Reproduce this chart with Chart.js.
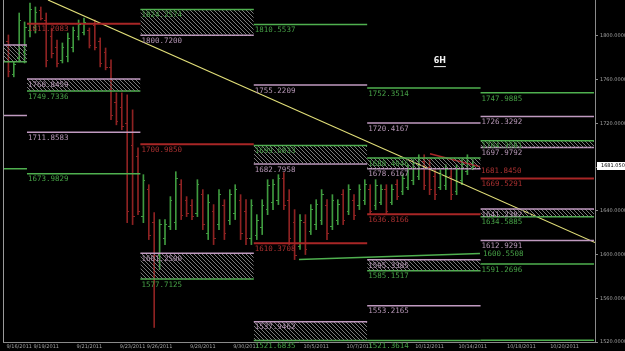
<!DOCTYPE html>
<html>
<head>
<meta charset="utf-8">
<script src="https://cdn.jsdelivr.net/npm/chart.js@4.4.1/dist/chart.umd.min.js"></script>
<style>
  html, body { margin: 0; padding: 0; background: #000; overflow: hidden; }
</style>
</head>
<body>
<canvas id="chart" width="625" height="351"></canvas>
<script>
// 6H bars, bar index of the first visible bar
const firstBar = -3;
const barOpen  = [1795,1765,1780,1785,1805,1808,1824,1815,1800,1790,1778,1782,1790,1800,1804,1805,1810,1795,1785,1772,1740,1735,1720,1700,1690,1635,1660,1630,1600,1615,1626,1630,1665,1650,1645,1638,1655,
                  1620,1640,1628,1645,1632,1638,1650,1640,1615,1618,1625,1642,1648,1650,1670,1650,1630,1608,1630,1622,1628,1632,1645,1626,1632,1655,1640,1650,1645,1650,1660,1645,1648,1660,1648,1665,1658,1662,1668,1672,1686,1680,1672,1662,1664,1672,1658,1668,1676,1679];
const barHigh  = [1800.9,1776.3,1821.0,1812.8,1830.1,1826.5,1826.5,1821.0,1807.3,1796.3,1793.6,1802.7,1808.2,1814.6,1816.4,1807.3,1814.6,1798.2,1789.0,1778.1,1747.9,1747.9,1746.1,1732.4,1697.7,1673.1,1663.9,1638.4,1632.0,1632.0,1653.0,1675.8,1668.5,1653.0,1650.2,1668.5,1659.4,
                  1654.8,1645.7,1659.4,1650.2,1659.4,1663.9,1654.8,1650.2,1650.2,1636.5,1650.2,1668.5,1668.5,1673.1,1675,1659.4,1641.1,1636.5,1636.5,1645.7,1650.2,1659.4,1650.2,1654.8,1650.2,1659.4,1663.9,1654.8,1663.9,1668.5,1663.9,1668.5,1663.9,1663.9,1663.9,1668.5,1673.1,1682.2,1686.8,1691.3,1691.3,1686.8,1677.6,1677.6,1682.2,1677.6,1682.2,1686.8,1691.3,1686.8];
const barLow   = [1762.6,1762.6,1776.3,1775.3,1799.1,1802.7,1814.6,1771.7,1779.9,1771.7,1775.3,1776.3,1785.4,1796.3,1800.9,1789.0,1787.2,1771.7,1769.0,1723.3,1718.7,1714.2,1629.2,1627.4,1636.5,1629.2,1613.7,1533.3,1586.3,1609.1,1622.8,1622.8,1632.0,1634.7,1632.0,1634.7,1622.8,
                  1613.7,1609.1,1622.8,1613.7,1627.4,1632,1613.7,1609.1,1609.1,1613.7,1618.3,1636.5,1641.1,1645.7,1641.1,1609.1,1595.4,1604.6,1600,1618.3,1622.8,1627.4,1613.7,1622.8,1627.4,1627.4,1636.5,1632,1641.1,1645.7,1636.5,1641.1,1645.7,1636.5,1645.7,1650.2,1654.8,1659.4,1663.9,1668.5,1659.4,1654.8,1650.2,1659.4,1659.4,1650.2,1654.8,1663.9,1673.1,1677.6];
const barClose = [1768,1774,1815,1808,1825,1822,1816,1778,1784,1775,1790,1798,1805,1811,1813,1792,1790,1775,1772,1728,1722,1718,1640,1635,1640,1668,1618,1600,1628,1628,1650,1670,1636,1638,1635,1665,1628,
                  1648,1615,1655,1620,1655,1660,1620,1615,1645,1632,1645,1664,1665,1670,1645,1615,1600,1632,1605,1642,1646,1655,1620,1650,1646,1632,1660,1636,1660,1665,1640,1664,1660,1640,1660,1654,1670,1678,1684,1688,1664,1660,1655,1674,1678,1655,1678,1683,1688,1681.05];

// weekly pivot periods (bar index of the first bar), 21 bars per week
const weekStart = [-21, 0, 21, 42, 63, 84];
const weekLen = 21;

// [week, value, label]
const greenLines = [
  [0, 1678.5, ''], [1, 1673.9829, '1673.9829'], [3, 1810.5537, '1810.5537'],
  [4, 1752.3514, '1752.3514'], [4, 1521.3614, '1521.3614'], [5, 1747.9885, '1747.9885'],
  [5, 1591.2696, '1591.2696'], [5, 1521.5, '']
];
const purpleLines = [
  [0, 1727.2, ''], [1, 1711.8583, '1711.8583'], [3, 1755.2209, '1755.2209'],
  [4, 1720.4167, '1720.4167'], [4, 1553.2165, '1553.2165'], [5, 1726.3292, '1726.3292'],
  [5, 1612.9291, '1612.9291']
];
const redLines = [
  [1, 1811.2083, '1811.2083'], [2, 1700.9850, '1700.9850'], [3, 1610.3708, '1610.3708'],
  [4, 1636.8166, '1636.8166'], [5, 1669.5291, '1669.5291']
];
// hatched zones: [week, upper, upperLabel, upperKind, lower, lowerLabel, lowerKind]
const zones = [
  [0, 1791.8, '', 'p', 1776.3, '', 'g'],
  [1, 1760.7, '1760.8459', 'p', 1749.7336, '1749.7336', 'g'],
  [2, 1824.2574, '1824.2574', 'g', 1800.7200, '1800.7200', 'p'],
  [2, 1601.2500, '1601.2500', 'p', 1577.7125, '1577.7125', 'g'],
  [3, 1699.8, '1699.6833', 'g', 1682.7958, '1682.7958', 'p'],
  [3, 1538.5, '1537.9462', 'p', 1521.4, '1521.6835', 'g'],
  [4, 1688.3, '1688.4046', 'g', 1678.6167, '1678.6167', 'p'],
  [4, 1595.2, '1595.3385', 'p', 1585.1517, '1585.1517', 'g'],
  [5, 1704.1, '1704.3581', 'g', 1697.9792, '1697.9792', 'p'],
  [5, 1641.7, '1641.2382', 'p', 1634.5885, '1634.5885', 'g']
];

const trendLine = [[4.33, 1832.9], [105.63, 1611.0]];
const redSlope = [[75.07, 1692.2], [84.33, 1680.4]];
const greenSlope = [[50.81, 1595.4], [84.33, 1600.9]];
const redSlopeLabel = '1681.8450';
const greenSlopeLabel = '1600.5508';

const dateIdx = [-1, 4, 12, 20, 25, 33, 41, 54, 62, 75, 83, 92, 100];
const dateLabels = ['9/16/2011','9/19/2011','9/21/2011','9/23/2011','9/26/2011','9/28/2011','9/30/2011',
  '10/5/2011','10/7/2011','10/12/2011','10/14/2011','10/18/2011','10/20/2011'];
const priceTicks = [1520, 1560, 1600, 1640, 1680, 1720, 1760, 1800];
const lastPrice = 1681.0501;
const periodLabel = ['6H', 76.9, 1777];

const lineColor = { g: '#4fb04f', p: '#c09ac0', r: '#a82626' };
const textColor = { g: '#46a046', p: '#b596b5', r: '#a83030' };
const upColor = '#3f9a3f', downColor = '#8e2222';
const pivotShift = 0.44; // pivot lines begin a little right of the week's first bar

const canvas = document.getElementById('chart');
const hatch = (() => {
  const c = document.createElement('canvas');
  c.width = 4; c.height = 4;
  const g = c.getContext('2d');
  g.strokeStyle = '#7a7a7a';
  g.lineWidth = 1;
  g.beginPath();
  g.moveTo(0, 0); g.lineTo(4, 4);
  g.moveTo(-1, 3); g.lineTo(1, 5);
  g.moveTo(3, -1); g.lineTo(5, 1);
  g.stroke();
  return canvas.getContext('2d').createPattern(c, 'repeat');
})();

const seg = (w, v) => [{ x: weekStart[w] + pivotShift, y: v }, { x: weekStart[w] + pivotShift + weekLen, y: v }];
const lineDs = (data, color, width, extra) => Object.assign({
  type: 'line', data, borderColor: color, borderWidth: width, pointRadius: 0, fill: false
}, extra || {});

const datasets = [];
const labels = [];
zones.forEach(([w, up, upL, upK, lo, loL, loK]) => {
  datasets.push(lineDs(seg(w, up), lineColor[upK], 1.5, { fill: '+1', backgroundColor: hatch }));
  datasets.push(lineDs(seg(w, lo), lineColor[loK], 1.5));
  labels.push([w, up, upL, upK], [w, lo, loL, loK]);
});
greenLines.forEach(([w, v, t]) => { datasets.push(lineDs(seg(w, v), lineColor.g, 1.5)); labels.push([w, v, t, 'g']); });
purpleLines.forEach(([w, v, t]) => { datasets.push(lineDs(seg(w, v), lineColor.p, 1.5)); labels.push([w, v, t, 'p']); });
redLines.forEach(([w, v, t]) => { datasets.push(lineDs(seg(w, v), lineColor.r, 2)); labels.push([w, v, t, 'r']); });
datasets.push(lineDs(redSlope.map(([x, y]) => ({ x, y })), lineColor.r, 1.5));
datasets.push(lineDs(greenSlope.map(([x, y]) => ({ x, y })), lineColor.g, 1.5));
datasets.push(lineDs(trendLine.map(([x, y]) => ({ x, y })), '#e2df78', 1.2));

datasets.push({
  type: 'bar',
  data: barHigh.map((h, k) => ({ x: firstBar + k, y: [barLow[k], h] })),
  backgroundColor: barClose.map((c, k) => c >= barOpen[k] ? upColor : downColor),
  barThickness: 1,
  grouped: false
});

const overlay = {
  id: 'overlay',
  afterDatasetsDraw(chart) {
    const { ctx, chartArea: a, scales: { x, y } } = chart;
    ctx.save();
    // open / close ticks
    ctx.lineWidth = 1;
    barOpen.forEach((o, k) => {
      const px = Math.round(x.getPixelForValue(firstBar + k));
      const po = Math.round(y.getPixelForValue(o)) + 0.5;
      const pc = Math.round(y.getPixelForValue(barClose[k])) + 0.5;
      ctx.strokeStyle = barClose[k] >= o ? upColor : downColor;
      ctx.beginPath();
      ctx.moveTo(px - 2, po); ctx.lineTo(px, po);
      ctx.moveTo(px, pc); ctx.lineTo(px + 2, pc);
      ctx.stroke();
    });
    // level labels
    ctx.beginPath();
    ctx.rect(a.left, a.top, a.width, a.height + 9);
    ctx.clip();
    ctx.font = '7.5px "DejaVu Sans Mono"';
    ctx.textBaseline = 'top';
    labels.forEach(([w, v, t, k]) => {
      if (!t) return;
      ctx.fillStyle = textColor[k];
      ctx.fillText(t, x.getPixelForValue(weekStart[w] + pivotShift) + 1, y.getPixelForValue(v) + 2);
    });
    ctx.textBaseline = 'middle';
    ctx.fillStyle = textColor.r;
    ctx.fillText(redSlopeLabel, x.getPixelForValue(redSlope[1][0]) + 1, y.getPixelForValue(redSlope[1][1]) + 4);
    ctx.fillStyle = textColor.g;
    ctx.fillText(greenSlopeLabel, x.getPixelForValue(greenSlope[1][0]) + 3, y.getPixelForValue(greenSlope[1][1]));
    // period label
    ctx.font = 'bold 8px "DejaVu Sans"';
    ctx.fillStyle = '#f0f0f0';
    ctx.textAlign = 'center';
    const lx = x.getPixelForValue(periodLabel[1]), ly = y.getPixelForValue(periodLabel[2]);
    ctx.fillText(periodLabel[0], lx, ly);
    ctx.fillRect(lx - 6, ly + 5, 12, 1);
    ctx.restore();
  },
  afterDraw(chart) {
    const { ctx, chartArea: a, scales: { y } } = chart;
    ctx.save();
    ctx.strokeStyle = '#9a9a9a';
    ctx.lineWidth = 1;
    ctx.beginPath();
    ctx.moveTo(a.left + 0.5, a.top); ctx.lineTo(a.left + 0.5, a.bottom);
    ctx.stroke();
    const py = Math.round(y.getPixelForValue(lastPrice));
    ctx.fillStyle = '#ffffff';
    ctx.fillRect(a.right + 2, py - 4, 28, 8);
    ctx.fillStyle = '#000';
    ctx.font = '5px "DejaVu Sans"';
    ctx.textBaseline = 'middle';
    ctx.fillText(lastPrice.toFixed(4), a.right + 6, py);
    ctx.restore();
  }
};

new Chart(canvas, {
  type: 'line',
  data: { datasets },
  options: {
    responsive: false,
    devicePixelRatio: 1,
    animation: false,
    layout: { padding: { left: 3, top: 0, right: 0, bottom: 0 } },
    plugins: { legend: { display: false }, tooltip: { enabled: false } },
    scales: {
      x: {
        type: 'linear',
        min: -4.0,
        max: 105.63,
        offset: false,
        grid: { display: false, drawTicks: false },
        border: { display: true, color: '#8a8a8a' },
        afterBuildTicks: s => { s.ticks = dateIdx.map(v => ({ value: v })); },
        afterFit: s => { s.height = 9; s.paddingLeft = 0; s.paddingRight = 0; },
        ticks: {
          autoSkip: false, maxRotation: 0, padding: 2,
          color: '#a0a0a0', font: { size: 5, family: 'DejaVu Sans' },
          callback: (v, i) => dateLabels[i]
        }
      },
      y: {
        type: 'linear',
        position: 'right',
        min: 1520,
        max: 1832.9,
        grid: { display: true, drawOnChartArea: false, tickLength: 3, color: '#8a8a8a' },
        border: { display: true, color: '#8a8a8a' },
        afterBuildTicks: s => { s.ticks = priceTicks.map(v => ({ value: v })); },
        afterFit: s => { s.width = 30; s.paddingTop = 0; s.paddingBottom = 0; },
        ticks: {
          padding: 2, color: '#a0a0a0', font: { size: 5, family: 'DejaVu Sans' },
          callback: v => Number(v).toFixed(4)
        }
      }
    }
  },
  plugins: [overlay]
});
</script>
</body>
</html>
